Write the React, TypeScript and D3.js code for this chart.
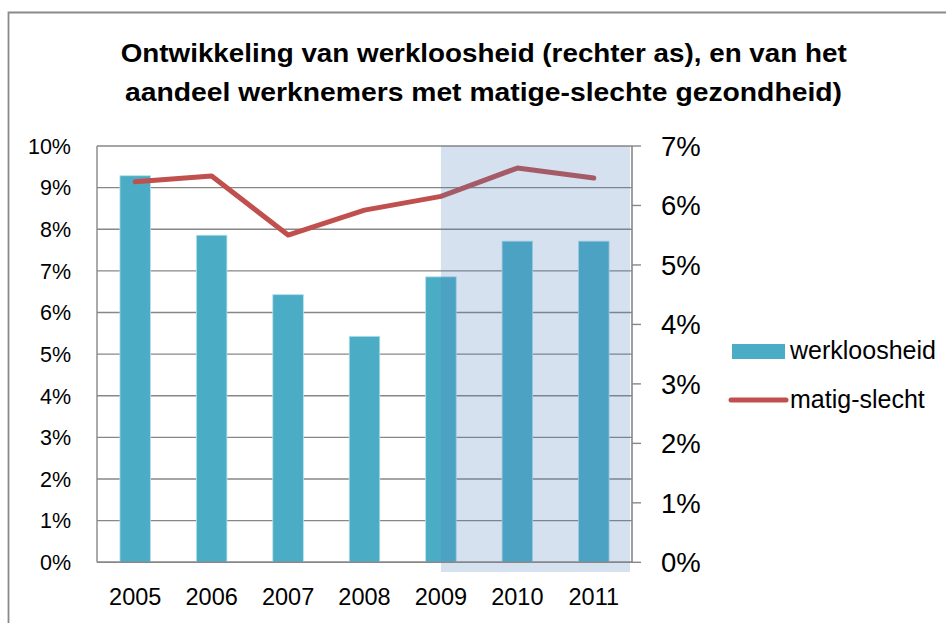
import React from "react";
import * as d3 from "d3";

const years = ["2005", "2006", "2007", "2008", "2009", "2010", "2011"];
const werkloosheid = [6.5, 5.5, 4.5, 3.8, 4.8, 5.4, 5.4]; // right axis
const matigSlecht = [9.14, 9.28, 7.86, 8.46, 8.79, 9.47, 9.23]; // left axis
const leftTicks = [0, 1, 2, 3, 4, 5, 6, 7, 8, 9, 10];
const rightTicks = [0, 1, 2, 3, 4, 5, 6, 7];
const titleLines = [
  "Ontwikkeling van werkloosheid (rechter as), en van het",
  "aandeel werknemers met  matige-slechte gezondheid)",
];
const legendLabels = ["werkloosheid", "matig-slecht"];
const highlightYears = ["2009", "2011"];

export default function App() {
  const W = 946, H = 623;
  const left = 97, right = 632, top = 146, bottom = 562.3;
  const x = d3.scaleBand<string>().domain(years).range([left, right]).paddingInner(0.6).paddingOuter(0.3);
  const xc = (y: string) => (x(y) as number) + x.bandwidth() / 2;
  const yL = d3.scaleLinear().domain([0, 10]).range([bottom, top]);
  const yR = d3.scaleLinear().domain([0, 7]).range([bottom, top]);
  const line = d3.line<number>().x((_, i) => xc(years[i])).y((d) => yL(d));
  const grid = "#878787";
  const font = "'Liberation Sans', Arial, sans-serif";
  const shadeX0 = xc(highlightYears[0]);
  const shadeX1 = right - 2;

  return (
    <svg width={W} height={H} style={{ position: "absolute", left: 0, top: 0, background: "#fff" }}>
      <rect x={0} y={0} width={W} height={H} fill="#fff" />
      {/* outer frame */}
      <path d={`M8.5,${H + 5} V12.5 H${W + 5}`} fill="none" stroke="#8a8a8a" strokeWidth={1.8} />
      {/* title */}
      {titleLines.map((t, i) => (
        <text
          key={i}
          x={i === 0 ? 120.7 : 125}
          y={i === 0 ? 62 : 101}
          fontFamily={font}
          fontWeight="bold"
          fontSize={25.5}
          textLength={i === 0 ? 726 : 717}
          lengthAdjust="spacingAndGlyphs"
          fill="#000"
        >
          {t}
        </text>
      ))}
      {/* gridlines */}
      {leftTicks.map((t) => (
        <line key={t} x1={left} x2={right} y1={yL(t)} y2={yL(t)} stroke={grid} strokeWidth={1.4} />
      ))}
      {/* left axis line */}
      <line x1={left} x2={left} y1={top} y2={bottom} stroke={grid} strokeWidth={1.4} />
      {/* bars */}
      {werkloosheid.map((v, i) => (
        <rect
          key={years[i]}
          x={x(years[i])}
          y={yR(v)}
          width={x.bandwidth()}
          height={bottom - yR(v)}
          fill="#4bacc6"
          stroke="#b9e0ea"
          strokeWidth={0.8}
        />
      ))}
      {/* line */}
      <path d={line(matigSlecht) as string} fill="none" stroke="#c0504d" strokeWidth={5} strokeLinejoin="round" strokeLinecap="round" />
      {/* shaded period */}
      <rect x={shadeX0} y={top} width={shadeX1 - shadeX0} height={572 - top} fill="rgb(79,129,189)" fillOpacity={0.24} />
      {/* right axis */}
      <line x1={right} x2={right} y1={top} y2={bottom} stroke={grid} strokeWidth={1.6} />
      {rightTicks.map((t) => (
        <line key={t} x1={right} x2={right + 9} y1={yR(t)} y2={yR(t)} stroke={grid} strokeWidth={1.4} />
      ))}
      {/* bottom axis line */}
      <line x1={left} x2={right} y1={bottom} y2={bottom} stroke={grid} strokeWidth={1.6} />
      {/* left tick labels */}
      {leftTicks.map((t) => (
        <text key={t} x={71} y={yL(t)} dy="0.36em" textAnchor="end" fontFamily={font} fontSize={21.5} fill="#000">
          {t + "%"}
        </text>
      ))}
      {/* right tick labels */}
      {rightTicks.map((t) => (
        <text key={t} x={661} y={yR(t)} dy="0.36em" textAnchor="start" fontFamily={font} fontSize={27.5} fill="#000">
          {t + "%"}
        </text>
      ))}
      {/* x labels */}
      {years.map((y) => (
        <text key={y} x={xc(y)} y={605} textAnchor="middle" fontFamily={font} fontSize={23.5} fill="#000">
          {y}
        </text>
      ))}
      {/* legend */}
      <rect x={732} y={344} width={53} height={15} fill="#4bacc6" />
      <text x={790} y={359} fontFamily={font} fontSize={25} fill="#000">{legendLabels[0]}</text>
      <line x1={731} x2={786} y1={400} y2={400} stroke="#c0504d" strokeWidth={5} strokeLinecap="round" />
      <text x={790} y={408} fontFamily={font} fontSize={25} fill="#000">{legendLabels[1]}</text>
    </svg>
  );
}
